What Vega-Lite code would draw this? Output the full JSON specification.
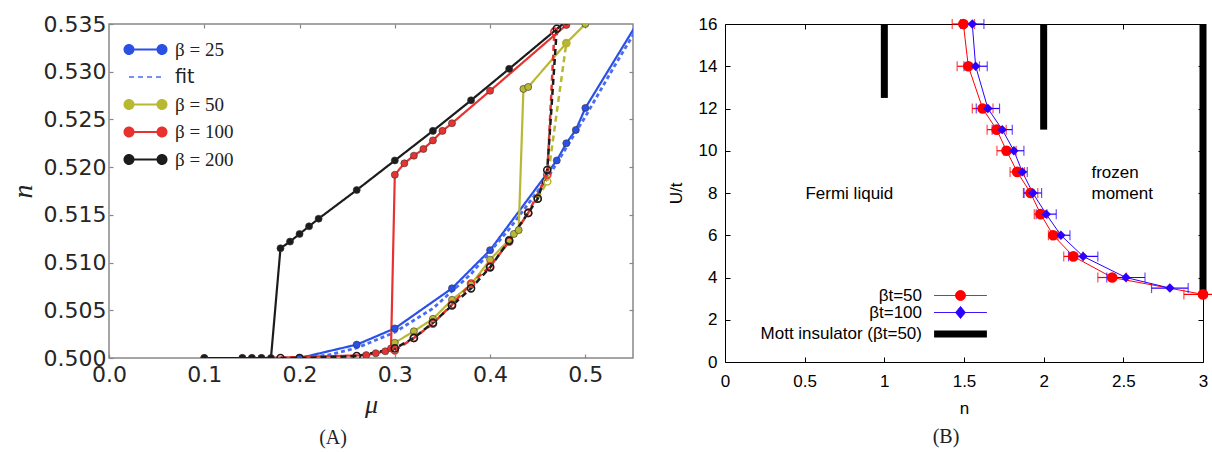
{
  "$schema": "https://vega.github.io/schema/vega-lite/v6.json",
  "background": "white",
  "padding": {"left": 8, "top": 12, "right": 0, "bottom": 0},
  "spacing": 31,
  "config": {"axis": {"grid": false}, "legend": {"title": null}},
  "resolve": {"scale": {"color": "independent"}, "legend": {"color": "independent"}},
  "hconcat": [
    {
      "width": 524,
      "height": 334,
      "view": {"stroke": "#888888", "strokeWidth": 1.5},
      "title": {"text": "(A)", "orient": "bottom", "anchor": "middle", "dx": -38, "offset": 11, "font": "Liberation Serif", "fontSize": 20, "fontWeight": "normal", "color": "#222222"},
      "data": {"values": [
        {"beta": "β = 25", "branch": "solid", "mu": 0.20, "n": 0.5000},
        {"beta": "β = 25", "branch": "solid", "mu": 0.26, "n": 0.5014},
        {"beta": "β = 25", "branch": "solid", "mu": 0.30, "n": 0.5031},
        {"beta": "β = 25", "branch": "solid", "mu": 0.36, "n": 0.5073},
        {"beta": "β = 25", "branch": "solid", "mu": 0.40, "n": 0.5113},
        {"beta": "β = 25", "branch": "solid", "mu": 0.47, "n": 0.5207},
        {"beta": "β = 25", "branch": "solid", "mu": 0.48, "n": 0.5225},
        {"beta": "β = 25", "branch": "solid", "mu": 0.49, "n": 0.5239},
        {"beta": "β = 25", "branch": "solid", "mu": 0.50, "n": 0.5262},
        {"beta": "β = 25", "branch": "solid", "mu": 0.56, "n": 0.5360},
        {"beta": "fit", "branch": "fit", "mu": 0.20, "n": 0.5000},
        {"beta": "fit", "branch": "fit", "mu": 0.23, "n": 0.5003},
        {"beta": "fit", "branch": "fit", "mu": 0.26, "n": 0.50105},
        {"beta": "fit", "branch": "fit", "mu": 0.30, "n": 0.5027},
        {"beta": "fit", "branch": "fit", "mu": 0.34, "n": 0.5052},
        {"beta": "fit", "branch": "fit", "mu": 0.38, "n": 0.5088},
        {"beta": "fit", "branch": "fit", "mu": 0.42, "n": 0.5135},
        {"beta": "fit", "branch": "fit", "mu": 0.46, "n": 0.5188},
        {"beta": "fit", "branch": "fit", "mu": 0.50, "n": 0.5253},
        {"beta": "fit", "branch": "fit", "mu": 0.53, "n": 0.5305},
        {"beta": "fit", "branch": "fit", "mu": 0.56, "n": 0.5355},
        {"beta": "β = 50", "branch": "solid", "mu": 0.30, "n": 0.5016},
        {"beta": "β = 50", "branch": "solid", "mu": 0.32, "n": 0.5028},
        {"beta": "β = 50", "branch": "solid", "mu": 0.34, "n": 0.5041},
        {"beta": "β = 50", "branch": "solid", "mu": 0.36, "n": 0.5061},
        {"beta": "β = 50", "branch": "solid", "mu": 0.38, "n": 0.5077},
        {"beta": "β = 50", "branch": "solid", "mu": 0.40, "n": 0.5103},
        {"beta": "β = 50", "branch": "solid", "mu": 0.42, "n": 0.5124},
        {"beta": "β = 50", "branch": "solid", "mu": 0.425, "n": 0.5130},
        {"beta": "β = 50", "branch": "solid", "mu": 0.43, "n": 0.5134},
        {"beta": "β = 50", "branch": "solid", "mu": 0.435, "n": 0.5282},
        {"beta": "β = 50", "branch": "solid", "mu": 0.44, "n": 0.5284},
        {"beta": "β = 50", "branch": "solid", "mu": 0.48, "n": 0.5330},
        {"beta": "β = 50", "branch": "solid", "mu": 0.50, "n": 0.5350},
        {"beta": "β = 50", "branch": "dashed", "mu": 0.45, "n": 0.5167},
        {"beta": "β = 50", "branch": "dashed", "mu": 0.46, "n": 0.5185},
        {"beta": "β = 50", "branch": "dashed", "mu": 0.48, "n": 0.5330},
        {"beta": "β = 100", "branch": "solid", "mu": 0.10, "n": 0.5000},
        {"beta": "β = 100", "branch": "solid", "mu": 0.14, "n": 0.5000},
        {"beta": "β = 100", "branch": "solid", "mu": 0.15, "n": 0.5000},
        {"beta": "β = 100", "branch": "solid", "mu": 0.16, "n": 0.5000},
        {"beta": "β = 100", "branch": "solid", "mu": 0.27, "n": 0.5003},
        {"beta": "β = 100", "branch": "solid", "mu": 0.28, "n": 0.5005},
        {"beta": "β = 100", "branch": "solid", "mu": 0.29, "n": 0.5007},
        {"beta": "β = 100", "branch": "solid", "mu": 0.296, "n": 0.5010},
        {"beta": "β = 100", "branch": "solid", "mu": 0.30, "n": 0.5192},
        {"beta": "β = 100", "branch": "solid", "mu": 0.31, "n": 0.5204},
        {"beta": "β = 100", "branch": "solid", "mu": 0.32, "n": 0.5212},
        {"beta": "β = 100", "branch": "solid", "mu": 0.33, "n": 0.5219},
        {"beta": "β = 100", "branch": "solid", "mu": 0.34, "n": 0.5228},
        {"beta": "β = 100", "branch": "solid", "mu": 0.35, "n": 0.5238},
        {"beta": "β = 100", "branch": "solid", "mu": 0.36, "n": 0.5246},
        {"beta": "β = 100", "branch": "solid", "mu": 0.40, "n": 0.5280},
        {"beta": "β = 100", "branch": "solid", "mu": 0.48, "n": 0.5349},
        {"beta": "β = 100", "branch": "dashed", "mu": 0.30, "n": 0.5008},
        {"beta": "β = 100", "branch": "dashed", "mu": 0.32, "n": 0.5021},
        {"beta": "β = 100", "branch": "dashed", "mu": 0.34, "n": 0.5036},
        {"beta": "β = 100", "branch": "dashed", "mu": 0.36, "n": 0.5056},
        {"beta": "β = 100", "branch": "dashed", "mu": 0.38, "n": 0.5078},
        {"beta": "β = 100", "branch": "dashed", "mu": 0.40, "n": 0.5096},
        {"beta": "β = 100", "branch": "dashed", "mu": 0.42, "n": 0.5122},
        {"beta": "β = 100", "branch": "dashed", "mu": 0.44, "n": 0.5152},
        {"beta": "β = 100", "branch": "dashed", "mu": 0.46, "n": 0.5192},
        {"beta": "β = 100", "branch": "dashed", "mu": 0.4675, "n": 0.5342},
        {"beta": "β = 200", "branch": "solid", "mu": 0.10, "n": 0.5000},
        {"beta": "β = 200", "branch": "solid", "mu": 0.14, "n": 0.5000},
        {"beta": "β = 200", "branch": "solid", "mu": 0.15, "n": 0.5000},
        {"beta": "β = 200", "branch": "solid", "mu": 0.16, "n": 0.5000},
        {"beta": "β = 200", "branch": "solid", "mu": 0.17, "n": 0.5000},
        {"beta": "β = 200", "branch": "solid", "mu": 0.18, "n": 0.5115},
        {"beta": "β = 200", "branch": "solid", "mu": 0.19, "n": 0.5122},
        {"beta": "β = 200", "branch": "solid", "mu": 0.20, "n": 0.5130},
        {"beta": "β = 200", "branch": "solid", "mu": 0.21, "n": 0.5138},
        {"beta": "β = 200", "branch": "solid", "mu": 0.22, "n": 0.5146},
        {"beta": "β = 200", "branch": "solid", "mu": 0.26, "n": 0.5176},
        {"beta": "β = 200", "branch": "solid", "mu": 0.30, "n": 0.5207},
        {"beta": "β = 200", "branch": "solid", "mu": 0.34, "n": 0.5238},
        {"beta": "β = 200", "branch": "solid", "mu": 0.38, "n": 0.5270},
        {"beta": "β = 200", "branch": "solid", "mu": 0.42, "n": 0.5303},
        {"beta": "β = 200", "branch": "solid", "mu": 0.48, "n": 0.5353},
        {"beta": "β = 200", "branch": "dashed", "mu": 0.18, "n": 0.5000},
        {"beta": "β = 200", "branch": "dashed", "mu": 0.20, "n": 0.5000},
        {"beta": "β = 200", "branch": "dashed", "mu": 0.26, "n": 0.5002},
        {"beta": "β = 200", "branch": "dashed", "mu": 0.30, "n": 0.5010},
        {"beta": "β = 200", "branch": "dashed", "mu": 0.32, "n": 0.5021},
        {"beta": "β = 200", "branch": "dashed", "mu": 0.34, "n": 0.5037},
        {"beta": "β = 200", "branch": "dashed", "mu": 0.36, "n": 0.5055},
        {"beta": "β = 200", "branch": "dashed", "mu": 0.38, "n": 0.5073},
        {"beta": "β = 200", "branch": "dashed", "mu": 0.40, "n": 0.5095},
        {"beta": "β = 200", "branch": "dashed", "mu": 0.42, "n": 0.5123},
        {"beta": "β = 200", "branch": "dashed", "mu": 0.44, "n": 0.5152},
        {"beta": "β = 200", "branch": "dashed", "mu": 0.45, "n": 0.5167},
        {"beta": "β = 200", "branch": "dashed", "mu": 0.46, "n": 0.5197},
        {"beta": "β = 200", "branch": "dashed", "mu": 0.47, "n": 0.5345}
      ]},
      "resolve": {"axis": {"x": "independent", "y": "independent"}},
      "layer": [
        {
          "data": {"values": [{"k": 0}]},
          "mark": {"type": "point", "opacity": 0},
          "encoding": {
            "x": {"datum": 0, "type": "quantitative", "scale": {"domain": [0, 0.55], "nice": false, "zero": false},
                  "axis": {"orient": "top", "values": [0.1, 0.2, 0.3, 0.4, 0.5], "labels": false, "domain": false, "title": null, "tickSize": -4, "tickColor": "#888888", "tickWidth": 1.2}},
            "y": {"datum": 0.5, "type": "quantitative", "scale": {"domain": [0.5, 0.535], "nice": false, "zero": false},
                  "axis": {"orient": "right", "values": [0.505, 0.51, 0.515, 0.52, 0.525, 0.53], "labels": false, "domain": false, "title": null, "tickSize": -4, "tickColor": "#888888", "tickWidth": 1.2}}
          }
        },
        {
          "mark": {"type": "line", "clip": true},
          "encoding": {
            "x": {"field": "mu", "type": "quantitative", "scale": {"domain": [0, 0.55], "nice": false, "zero": false},
                  "axis": {"orient": "bottom", "values": [0, 0.1, 0.2, 0.3, 0.4, 0.5], "format": ".1f", "labelFlush": false, "labelOverlap": false, "domain": false,
                           "labelFont": "DejaVu Sans", "labelFontSize": 22, "labelColor": "#262626", "tickSize": -4, "tickColor": "#888888", "tickWidth": 1.2, "labelPadding": 10,
                           "title": "μ", "titleFont": "Liberation Serif", "titleFontStyle": "italic", "titleFontSize": 26, "titleFontWeight": "normal", "titleColor": "#222222", "titlePadding": 6}},
            "y": {"field": "n", "type": "quantitative", "scale": {"domain": [0.5, 0.535], "nice": false, "zero": false},
                  "axis": {"orient": "left", "values": [0.5, 0.505, 0.51, 0.515, 0.52, 0.525, 0.53, 0.535], "format": ".3f", "labelFlush": false, "labelOverlap": false, "domain": false,
                           "labelFont": "DejaVu Sans", "labelFontSize": 22, "labelColor": "#262626", "tickSize": -4, "tickColor": "#888888", "tickWidth": 1.2, "labelPadding": 7,
                           "title": "n", "titleFont": "Liberation Serif", "titleFontStyle": "italic", "titleFontSize": 28, "titleFontWeight": "normal", "titleColor": "#222222", "titlePadding": 6}},
            "color": {"field": "beta", "type": "nominal",
                      "scale": {"domain": ["β = 25", "fit", "β = 50", "β = 100", "β = 200"], "range": ["#2a50e6", "#4a6cf0", "#b8b833", "#e8322f", "#1c1c1c"]},
                      "legend": {"orient": "none", "legendX": 27, "legendY": 16, "title": null, "symbolSize": 400, "labelFontSize": 19, "labelFont": "Liberation Serif", "labelColor": "#222222", "labelOffset": 20, "rowPadding": 7.5,
                                 "encode": {
                                   "symbols": {"update": {
                                     "shape": {"signal": "datum.value === 'fit' ? 'M-1.65,0L1.65,0' : 'M-1.65,0L1.65,0M-2.1,0a0.45,0.45 0 1,0 0.9,0a0.45,0.45 0 1,0 -0.9,0M1.2,0a0.45,0.45 0 1,0 0.9,0a0.45,0.45 0 1,0 -0.9,0'"},
                                     "strokeDash": {"signal": "datum.value === 'fit' ? [5,4] : [1,0]"},
                                     "strokeWidth": {"signal": "datum.value === 'fit' ? 1.5 : 2"},
                                     "fill": {"signal": "datum.value === 'β = 25' ? '#2a50e6' : datum.value === 'β = 50' ? '#b8b833' : datum.value === 'β = 100' ? '#e8322f' : datum.value === 'β = 200' ? '#1c1c1c' : 'transparent'"},
                                     "stroke": {"signal": "datum.value === 'fit' ? '#3f66f2' : datum.value === 'β = 25' ? '#2a50e6' : datum.value === 'β = 50' ? '#b8b833' : datum.value === 'β = 100' ? '#e8322f' : '#1c1c1c'"},
                                     "strokeOpacity": {"value": 1},
                                     "opacity": {"value": 1}
                                   }},
                                   "labels": {"update": {"font": {"signal": "datum.value === 'fit' ? 'DejaVu Sans' : 'Liberation Serif'"}}}
                                 }}},
            "strokeDash": {"field": "branch", "type": "nominal", "scale": {"domain": ["solid", "dashed", "fit"], "range": [[1, 0], [6, 4], [4, 3]]}, "legend": null},
            "strokeWidth": {"field": "branch", "type": "ordinal", "scale": {"domain": ["solid", "dashed", "fit"], "range": [2.2, 2.8, 1.1]}, "legend": null}
          }
        },
        {
          "transform": [{"filter": "datum.branch === 'solid'"}],
          "mark": {"type": "point", "filled": true, "size": 50, "stroke": "#333333", "strokeWidth": 0.6, "opacity": 1, "clip": true},
          "encoding": {
            "x": {"field": "mu", "type": "quantitative", "scale": {"domain": [0, 0.55], "nice": false, "zero": false}, "axis": null},
            "y": {"field": "n", "type": "quantitative", "scale": {"domain": [0.5, 0.535], "nice": false, "zero": false}, "axis": null},
            "color": {"field": "beta", "type": "nominal",
                      "scale": {"domain": ["β = 25", "fit", "β = 50", "β = 100", "β = 200"], "range": ["#2a50e6", "#4a6cf0", "#b8b833", "#e8322f", "#1c1c1c"]}}
          }
        },
        {
          "transform": [{"filter": "datum.branch === 'dashed'"}],
          "mark": {"type": "point", "filled": false, "size": 50, "strokeWidth": 1.6, "opacity": 1, "clip": true},
          "encoding": {
            "x": {"field": "mu", "type": "quantitative", "scale": {"domain": [0, 0.55], "nice": false, "zero": false}, "axis": null},
            "y": {"field": "n", "type": "quantitative", "scale": {"domain": [0.5, 0.535], "nice": false, "zero": false}, "axis": null},
            "color": {"field": "beta", "type": "nominal",
                      "scale": {"domain": ["β = 25", "fit", "β = 50", "β = 100", "β = 200"], "range": ["#2a50e6", "#4a6cf0", "#b8b833", "#e8322f", "#1c1c1c"]}}
          }
        }
      ]
    },
    {
      "width": 478,
      "height": 338,
      "view": {"stroke": "#000000", "strokeWidth": 1},
      "title": {"text": "(B)", "orient": "bottom", "anchor": "middle", "dx": -18, "offset": 11, "font": "Liberation Serif", "fontSize": 20, "fontWeight": "normal", "color": "#222222"},
      "data": {"values": [
        {"series": "βt=50", "n": 1.496, "U": 16, "err": 0.07},
        {"series": "βt=50", "n": 1.527, "U": 14, "err": 0.07},
        {"series": "βt=50", "n": 1.617, "U": 12, "err": 0.065},
        {"series": "βt=50", "n": 1.705, "U": 11, "err": 0.06},
        {"series": "βt=50", "n": 1.767, "U": 10, "err": 0.06},
        {"series": "βt=50", "n": 1.834, "U": 9, "err": 0.045},
        {"series": "βt=50", "n": 1.918, "U": 8, "err": 0.045},
        {"series": "βt=50", "n": 1.981, "U": 7, "err": 0.04},
        {"series": "βt=50", "n": 2.060, "U": 6, "err": 0.03},
        {"series": "βt=50", "n": 2.186, "U": 5, "err": 0.06},
        {"series": "βt=50", "n": 2.430, "U": 4, "err": 0.09},
        {"series": "βt=50", "n": 3.0, "U": 3.2, "err": 0.12},
        {"series": "βt=100", "n": 1.552, "U": 16, "err": 0.073},
        {"series": "βt=100", "n": 1.573, "U": 14, "err": 0.073},
        {"series": "βt=100", "n": 1.650, "U": 12, "err": 0.073},
        {"series": "βt=100", "n": 1.740, "U": 11, "err": 0.063},
        {"series": "βt=100", "n": 1.813, "U": 10, "err": 0.063},
        {"series": "βt=100", "n": 1.866, "U": 9, "err": 0.031},
        {"series": "βt=100", "n": 1.932, "U": 8, "err": 0.055},
        {"series": "βt=100", "n": 2.016, "U": 7, "err": 0.063},
        {"series": "βt=100", "n": 2.108, "U": 6, "err": 0.057},
        {"series": "βt=100", "n": 2.248, "U": 5, "err": 0.092},
        {"series": "βt=100", "n": 2.516, "U": 4, "err": 0.12},
        {"series": "βt=100", "n": 2.792, "U": 3.5, "err": 0.115},
        {"series": "Mott insulator (βt=50)", "n": 1, "U": 12.5, "U2": 16},
        {"series": "Mott insulator (βt=50)", "n": 2, "U": 11, "U2": 16},
        {"series": "Mott insulator (βt=50)", "n": 3, "U": 3.2, "U2": 16}
      ]},
      "resolve": {"axis": {"x": "independent", "y": "independent"}},
      "layer": [
        {
          "data": {"values": [{"k": 0}]},
          "mark": {"type": "point", "opacity": 0},
          "encoding": {
            "x": {"datum": 0, "type": "quantitative", "scale": {"domain": [0, 3], "nice": false, "zero": false},
                  "axis": {"orient": "top", "values": [0.5, 1, 1.5, 2, 2.5], "labels": false, "domain": false, "title": null, "tickSize": -5, "tickColor": "#000000"}},
            "y": {"datum": 0, "type": "quantitative", "scale": {"domain": [0, 16], "nice": false, "zero": false},
                  "axis": {"orient": "right", "values": [2, 4, 6, 8, 10, 12, 14], "labels": false, "domain": false, "title": null, "tickSize": -5, "tickColor": "#000000"}}
          }
        },
        {
          "transform": [{"filter": "datum.series === 'Mott insulator (βt=50)'"}],
          "mark": {"type": "rule", "strokeWidth": 7},
          "encoding": {
            "x": {"field": "n", "type": "quantitative", "scale": {"domain": [0, 3], "nice": false, "zero": false},
                  "axis": {"orient": "bottom", "values": [0, 0.5, 1, 1.5, 2, 2.5, 3], "format": "~g", "labelFlush": false, "labelOverlap": false, "domain": false,
                           "labelFont": "Liberation Sans", "labelFontSize": 17, "labelColor": "#000000", "tickSize": -5, "tickColor": "#000000", "labelPadding": 16,
                           "title": "n", "titleFont": "Liberation Sans", "titleFontSize": 17, "titleFontWeight": "normal", "titleColor": "#000000", "titlePadding": 11}},
            "y": {"field": "U", "type": "quantitative", "scale": {"domain": [0, 16], "nice": false, "zero": false},
                  "axis": {"orient": "left", "values": [0, 2, 4, 6, 8, 10, 12, 14, 16], "labelFlush": false, "labelOverlap": false, "domain": false,
                           "labelFont": "Liberation Sans", "labelFontSize": 17, "labelColor": "#000000", "tickSize": -5, "tickColor": "#000000", "labelPadding": 13,
                           "title": "U/t", "titleFont": "Liberation Sans", "titleFontSize": 17, "titleFontWeight": "normal", "titleColor": "#000000", "titlePadding": 13}},
            "y2": {"field": "U2"},
            "color": {"field": "series", "type": "nominal",
                      "scale": {"domain": ["βt=50", "βt=100", "Mott insulator (βt=50)"], "range": ["#ff0000", "#2b00ff", "#000000"]},
                      "legend": {"orient": "none", "legendX": 227, "legendY": 263, "title": null, "symbolSize": 256, "labelAlign": "right", "labelOffset": -47, "labelLimit": 400, "labelFontSize": 17, "labelFont": "Liberation Sans", "labelColor": "#000000", "rowPadding": -1.5,
                                 "encode": {
                                   "symbols": {"update": {
                                     "shape": {"signal": "datum.value === 'βt=50' ? 'M-3.3,0L3.3,0M-0.62,0a0.62,0.62 0 1,0 1.24,0a0.62,0.62 0 1,0 -1.24,0' : datum.value === 'βt=100' ? 'M-3.3,0L3.3,0M0,-0.75L0.62,0L0,0.75L-0.62,0Z' : 'M-3.3,0L3.3,0'"},
                                     "strokeWidth": {"signal": "datum.value === 'Mott insulator (βt=50)' ? 7 : 1"},
                                     "strokeDash": {"value": [1, 0]},
                                     "fill": {"signal": "datum.value === 'βt=50' ? '#ff0000' : datum.value === 'βt=100' ? '#2b00ff' : 'transparent'"},
                                     "stroke": {"signal": "datum.value === 'βt=50' ? '#ff0000' : datum.value === 'βt=100' ? '#2b00ff' : '#000000'"},
                                     "opacity": {"value": 1}
                                   }}
                                 }}}
          }
        },
        {
          "transform": [{"filter": "datum.series !== 'Mott insulator (βt=50)'"}],
          "mark": {"type": "line", "strokeWidth": 1},
          "encoding": {
            "x": {"field": "n", "type": "quantitative", "scale": {"domain": [0, 3], "nice": false, "zero": false}, "axis": null},
            "y": {"field": "U", "type": "quantitative", "scale": {"domain": [0, 16], "nice": false, "zero": false}, "axis": null},
            "order": {"field": "U", "type": "quantitative"},
            "color": {"field": "series", "type": "nominal",
                      "scale": {"domain": ["βt=50", "βt=100", "Mott insulator (βt=50)"], "range": ["#ff0000", "#2b00ff", "#000000"]}}
          }
        },
        {
          "transform": [{"filter": "datum.series !== 'Mott insulator (βt=50)'"}],
          "mark": {"type": "errorbar", "ticks": {"size": 10}, "thickness": 1.2},
          "encoding": {
            "x": {"field": "n", "type": "quantitative", "scale": {"domain": [0, 3], "nice": false, "zero": false}, "axis": null},
            "xError": {"field": "err"},
            "y": {"field": "U", "type": "quantitative", "scale": {"domain": [0, 16], "nice": false, "zero": false}, "axis": null},
            "color": {"field": "series", "type": "nominal",
                      "scale": {"domain": ["βt=50", "βt=100", "Mott insulator (βt=50)"], "range": ["#ff0000", "#2b00ff", "#000000"]}}
          }
        },
        {
          "transform": [{"filter": "datum.series !== 'Mott insulator (βt=50)'"}],
          "mark": {"type": "point", "filled": true, "opacity": 1},
          "encoding": {
            "x": {"field": "n", "type": "quantitative", "scale": {"domain": [0, 3], "nice": false, "zero": false}, "axis": null},
            "y": {"field": "U", "type": "quantitative", "scale": {"domain": [0, 16], "nice": false, "zero": false}, "axis": null},
            "shape": {"field": "series", "type": "nominal", "scale": {"domain": ["βt=50", "βt=100"], "range": ["circle", "diamond"]}, "legend": null},
            "size": {"field": "series", "type": "ordinal", "scale": {"domain": ["βt=50", "βt=100"], "range": [115, 90]}, "legend": null},
            "color": {"field": "series", "type": "nominal",
                      "scale": {"domain": ["βt=50", "βt=100", "Mott insulator (βt=50)"], "range": ["#ff0000", "#2b00ff", "#000000"]}}
          }
        },
        {
          "data": {"values": [{"t": "Fermi liquid"}]},
          "mark": {"type": "text", "align": "left", "baseline": "middle", "font": "Liberation Sans", "fontSize": 17, "color": "#000000"},
          "encoding": {
            "text": {"field": "t"},
            "x": {"datum": 0.505, "type": "quantitative", "scale": {"domain": [0, 3], "nice": false, "zero": false}, "axis": null},
            "y": {"datum": 7.95, "type": "quantitative", "scale": {"domain": [0, 16], "nice": false, "zero": false}, "axis": null}
          }
        },
        {
          "data": {"values": [{"t": "frozen\nmoment"}]},
          "mark": {"type": "text", "align": "left", "baseline": "middle", "font": "Liberation Sans", "fontSize": 17, "lineHeight": 21, "lineBreak": "\n", "color": "#000000"},
          "encoding": {
            "text": {"field": "t"},
            "x": {"datum": 2.3, "type": "quantitative", "scale": {"domain": [0, 3], "nice": false, "zero": false}, "axis": null},
            "y": {"datum": 8.95, "type": "quantitative", "scale": {"domain": [0, 16], "nice": false, "zero": false}, "axis": null}
          }
        }
      ]
    }
  ]
}
